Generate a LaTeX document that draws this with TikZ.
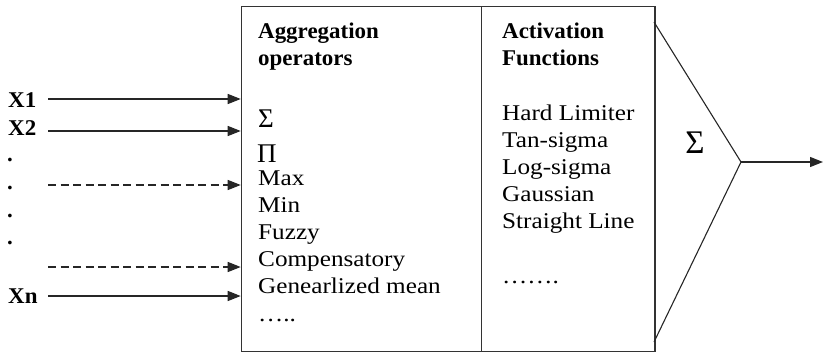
\documentclass[tikz,border=0pt]{standalone}
\usepackage{fontspec}
\setmainfont{Liberation Serif}
\newfontfamily\rmtxt{Liberation Serif}[FakeStretch=1.12]
\newfontfamily\bftxt{Liberation Serif}[FakeStretch=1.02]
\usetikzlibrary{arrows.meta}

\begin{document}
\begin{tikzpicture}[x=1bp, y=-1bp,
  frame/.style={draw=black!80, line width=1.5bp, inner sep=0pt, anchor=north west},
  item/.style={anchor=base west, inner sep=0pt, font=\rmtxt\fontsize{22.5bp}{26bp}\selectfont},
  head/.style={anchor=base west, inner sep=0pt, font=\bftxt\bfseries\fontsize{22.5bp}{26bp}\selectfont},
  bigsym/.style={anchor=base west, inner sep=0pt, font=\fontsize{27bp}{30bp}\selectfont},
  feed/.style={draw=black!85, line width=1.3bp, -{Triangle[length=13bp,width=10bp]}},
  feeddash/.style={feed, dash pattern=on 8bp off 4.5bp},
  thin/.style={draw=black!85, line width=1.1bp}]
\useasboundingbox (0,0) rectangle (824,352);

% the two processing boxes
\node[frame, minimum width=239.8bp, minimum height=345bp] (agg) at (240.7,5.7) {};
\node[frame, minimum width=173.5bp, minimum height=345bp] (act) at (480.5,5.7) {};

% aggregation operators
\node[head] (aggh1) at (258,38) {Aggregation};
\node[head] (aggh2) at (258,65) {operators};
\node[bigsym] (opsum)  at (258,127) {Σ};
\node[bigsym] (opprod) at (257,162) {Π};
\node[item] (opmax)  at (258,185) {Max};
\node[item] (opmin)  at (258,212) {Min};
\node[item] (opfuz)  at (258,239) {Fuzzy};
\node[item] (opcomp) at (258,266) {Compensatory};
\node[item] (opgen)  at (258,293) {Genearlized mean};
\node[item] (opdots) at (258,321) {…..};

% activation functions
\node[head] (acth1) at (502,38) {Activation};
\node[head] (acth2) at (502,65) {Functions};
\node[item] (afhard) at (502,120) {Hard Limiter};
\node[item] (aftan)  at (502,147) {Tan-sigma};
\node[item] (aflog)  at (502,174) {Log-sigma};
\node[item] (afgau)  at (502,201) {Gaussian};
\node[item] (afline) at (502,228) {Straight Line};
\node[item] (afdots) at (502,283) {…….};

% summing triangle and output
\coordinate (tritop) at (654,22);
\coordinate (apex) at (741,162);
\coordinate (tribot) at (654,342);
\coordinate (out) at (823,162);
\draw[thin] (tritop) -- (apex) -- (tribot);
\node[anchor=base, inner sep=0pt, font=\fontsize{33bp}{36bp}\selectfont] (trisum) at (695,153) {Σ};
\draw[feed] (apex) -- (out);

% inputs
\node[head] (lx1) at (8,107) {X1};
\node[head] (lx2) at (8,135) {X2};
\node[head] (d1) at (7,161) {.};
\node[head] (d2) at (7,189) {.};
\node[head] (d3) at (7,217) {.};
\node[head] (d4) at (7,244) {.};
\node[head] (lxn) at (8,303) {Xn};

\coordinate (s1) at (48,99);   \coordinate (e1) at (240.7,99);
\coordinate (s2) at (48,131);  \coordinate (e2) at (240.7,131);
\coordinate (s3) at (48,185);  \coordinate (e3) at (240.7,185);
\coordinate (s4) at (48,267);  \coordinate (e4) at (240.7,267);
\coordinate (s5) at (48,296);  \coordinate (e5) at (240.7,296);
\draw[feed] (s1) -- (e1);
\draw[feed] (s2) -- (e2);
\draw[feeddash] (s3) -- (e3);
\draw[feeddash] (s4) -- (e4);
\draw[feed] (s5) -- (e5);
\end{tikzpicture}
\end{document}
